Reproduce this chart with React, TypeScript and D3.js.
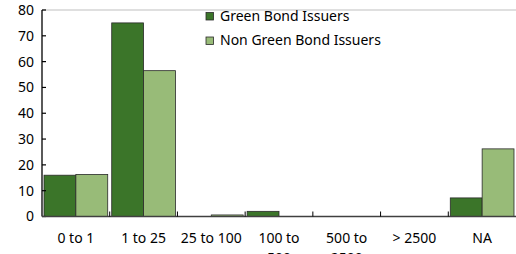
import React from 'react';
import { scaleBand, scaleLinear, range } from 'd3';

const categories = ['0 to 1', '1 to 25', '25 to 100', '100 to 500', '500 to 2500', '> 2500', 'NA'];
// labels as they wrap in the picture
const categoryLines = [['0 to 1'], ['1 to 25'], ['25 to 100'], ['100 to', '500'], ['500 to', '2500'], ['> 2500'], ['NA']];
const greenIssuers = [16, 75, 0, 2, 0, 0, 7.2];
const nonGreenIssuers = [16.3, 56.5, 0.6, 0, 0, 0, 26.2];
const seriesNames = ['Green Bond Issuers', 'Non Green Bond Issuers'];
const yTicks = [0, 10, 20, 30, 40, 50, 60, 70, 80];

const colors = ['#3b7529', '#98bb78'];
const font = '"Segoe UI", "Noto Sans", sans-serif';

const App: React.FC = () => {
  const width = 516;
  const height = 254;
  const left = 42;
  const top = 10;
  const bottom = 216.5;

  const x = scaleBand().domain(categories).range([left, width]).paddingInner(0).paddingOuter(0);
  const inner = scaleBand().domain(['g', 'n']).range([2, x.bandwidth() - 2]);
  const y = scaleLinear().domain([0, 80]).range([bottom, top]);

  const series = [greenIssuers, nonGreenIssuers];

  return (
    <svg width={width} height={height} style={{ position: 'absolute', left: 0, top: 0, background: '#fff' }}>
      {/* top gridline */}
      <line x1={left} x2={width} y1={y(80)} y2={y(80)} stroke="#bfbfbf" strokeWidth={1} />

      {series.map((vals, si) =>
        vals.map((v, i) => (
          <rect
            key={`${si}-${i}`}
            x={x(categories[i])! + inner(si === 0 ? 'g' : 'n')!}
            y={y(v)}
            width={inner.bandwidth()}
            height={bottom - y(v)}
            fill={colors[si]}
            stroke={v > 0 ? '#2a2a2a' : 'none'}
            strokeWidth={0.8}
          />
        ))
      )}

      {/* y axis */}
      <line x1={left} x2={left} y1={top} y2={bottom} stroke="#000" strokeWidth={1.3} />
      {yTicks.map(t => (
        <g key={t}>
          <line x1={left} x2={left + 4} y1={y(t)} y2={y(t)} stroke="#000" strokeWidth={1.2} />
          <text x={34} y={y(t)} dy="0.35em" textAnchor="end" fontFamily={font} fontSize={14} fill="#000">
            {t}
          </text>
        </g>
      ))}

      {/* x axis */}
      <line x1={left} x2={width} y1={bottom} y2={bottom} stroke="#404040" strokeWidth={1.3} />
      {range(1, categories.length).map(i => (
        <line key={i} x1={x(categories[i])!} x2={x(categories[i])!} y1={bottom} y2={bottom - 5} stroke="#000" strokeWidth={1} />
      ))}
      {categories.map((c, i) => (
        <text key={c} x={x(c)! + x.bandwidth() / 2} y={243} textAnchor="middle" fontFamily={font} fontSize={14} fill="#000">
          {categoryLines[i].map((line, li) => (
            <tspan key={li} x={x(c)! + x.bandwidth() / 2} dy={li === 0 ? 0 : 20}>
              {line}
            </tspan>
          ))}
        </text>
      ))}

      {/* legend */}
      {seriesNames.map((name, i) => (
        <g key={name} transform={`translate(206, ${12.5 + i * 24.5})`}>
          <rect x={0} y={0} width={7.5} height={7.5} fill={colors[i]} stroke="#2a2a2a" strokeWidth={0.8} />
          <text x={14} y={8.3} fontFamily={font} fontSize={14} fill="#000">
            {name}
          </text>
        </g>
      ))}
    </svg>
  );
};

export default App;
